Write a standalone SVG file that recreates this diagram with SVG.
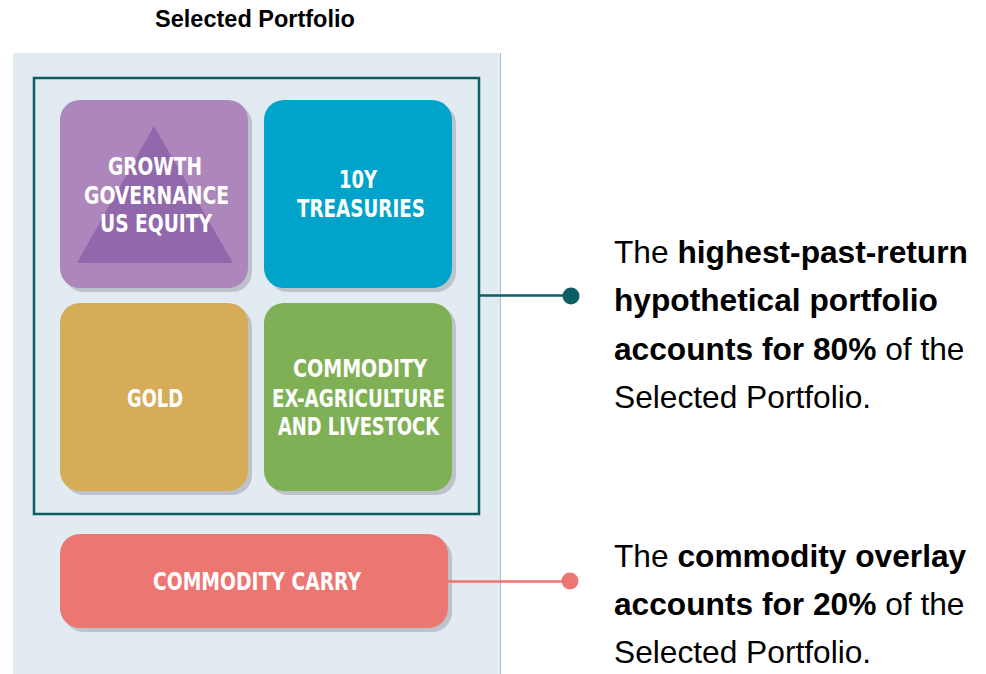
<svg xmlns="http://www.w3.org/2000/svg" width="986" height="674" viewBox="0 0 986 674">
<style>
.sh{fill:#bcc3ca}
.lbl{font-family:"DejaVu Sans Condensed","Liberation Sans",sans-serif;font-weight:bold;font-size:24px;fill:#ffffff;text-anchor:middle}
.txt{font-family:"Liberation Sans",Arial,sans-serif;font-size:31.7px;fill:#000000}
.b{font-weight:bold}
</style>
<rect width="986" height="674" fill="#ffffff"/>
<text x="255" y="27" text-anchor="middle" font-family="Liberation Sans, Arial, sans-serif" font-weight="bold" font-size="23.5" fill="#000">Selected Portfolio</text>
<g id="panel">
<rect x="13" y="53" width="487" height="621" fill="#e2eaf2"/>
<line x1="500.5" y1="53" x2="500.5" y2="674" stroke="#b4bcc4" stroke-width="1"/>
</g>
<g id="frame">
<rect x="34" y="78" width="445" height="436" fill="none" stroke="#0d5e63" stroke-width="2.5"/>
</g>
<g id="growth">
<rect class="sh" x="64" y="104" width="188" height="188" rx="20"/>
<rect x="60" y="100" width="188" height="188" rx="20" fill="#ad87bb"/>
<polygon points="154,126 77,263 233,263" fill="#9168ab"/>
<text class="lbl" x="155" y="175" textLength="94" lengthAdjust="spacingAndGlyphs">GROWTH</text>
<text class="lbl" x="156.5" y="204" textLength="145" lengthAdjust="spacingAndGlyphs">GOVERNANCE</text>
<text class="lbl" x="156" y="232" textLength="112" lengthAdjust="spacingAndGlyphs">US EQUITY</text>
</g>
<g id="treasuries">
<rect class="sh" x="268" y="104" width="188" height="188" rx="20"/>
<rect x="264" y="100" width="188" height="188" rx="20" fill="#00a3ca"/>
<text class="lbl" x="358" y="188" textLength="38" lengthAdjust="spacingAndGlyphs">10Y</text>
<text class="lbl" x="361" y="217" textLength="128" lengthAdjust="spacingAndGlyphs">TREASURIES</text>
</g>
<g id="gold">
<rect class="sh" x="64" y="307" width="188" height="188" rx="20"/>
<rect x="60" y="303" width="188" height="188" rx="20" fill="#d6ac58"/>
<text class="lbl" x="155" y="407" textLength="56" lengthAdjust="spacingAndGlyphs">GOLD</text>
</g>
<g id="commodity">
<rect class="sh" x="268" y="307" width="188" height="188" rx="20"/>
<rect x="264" y="303" width="188" height="188" rx="20" fill="#7fb055"/>
<text class="lbl" x="360" y="377" textLength="134" lengthAdjust="spacingAndGlyphs">COMMODITY</text>
<text class="lbl" x="358.5" y="407" textLength="173" lengthAdjust="spacingAndGlyphs">EX-AGRICULTURE</text>
<text class="lbl" x="358.5" y="435" textLength="161" lengthAdjust="spacingAndGlyphs">AND LIVESTOCK</text>
</g>
<g id="carry">
<rect class="sh" x="64" y="538" width="388" height="94" rx="20"/>
<rect x="60" y="534" width="388" height="94" rx="20" fill="#ec7672"/>
<text class="lbl" x="257" y="590" textLength="208" lengthAdjust="spacingAndGlyphs">COMMODITY CARRY</text>
</g>
<g id="connectors">
<line x1="479" y1="295.5" x2="571" y2="295.5" stroke="#0d5e63" stroke-width="2.5"/>
<circle cx="571" cy="296" r="8.5" fill="#0d5e63"/>
<line x1="448" y1="581.5" x2="570" y2="581.5" stroke="#ec7672" stroke-width="2.5"/>
<circle cx="570" cy="581" r="8.5" fill="#ec7672"/>
</g>
<g id="note1">
<text class="txt" x="614" y="263">The <tspan class="b">highest-past-return</tspan></text>
<text class="txt b" x="614" y="311">hypothetical portfolio</text>
<text class="txt" x="614" y="360"><tspan class="b">accounts for 80%</tspan> of the</text>
<text class="txt" x="614" y="408">Selected Portfolio.</text>
</g>
<g id="note2">
<text class="txt" x="614" y="567">The <tspan class="b">commodity overlay</tspan></text>
<text class="txt" x="614" y="615"><tspan class="b">accounts for 20%</tspan> of the</text>
<text class="txt" x="614" y="663">Selected Portfolio.</text>
</g>
</svg>
